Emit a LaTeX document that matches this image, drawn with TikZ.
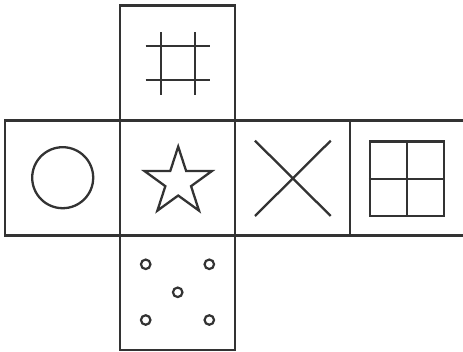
\documentclass[tikz,border=0pt]{standalone}
\usetikzlibrary{shapes.geometric}
\definecolor{ink}{HTML}{333333}
\begin{document}
\begin{tikzpicture}[x=1pt,y=-1pt,
  face/.style={draw=ink,line width=2.3pt,minimum size=115pt,inner sep=0pt,outer sep=0pt},
  sym/.style={draw=ink,line width=2.3pt},
  dot/.style={circle,draw=ink,line width=2.2pt,minimum size=9.5pt,inner sep=0pt}]
\useasboundingbox (0,0) rectangle (463,351);
\clip (0,0) rectangle (463,351);
% faces
\node[face] (top) at (177.75,63) {};
\node[face] (left) at (62.75,178) {};
\node[face] (mid) at (177.75,178) {};
\node[face] (right) at (292.5,178) {};
\node[face] (far) at (407.5,178) {};
\node[face] (bot) at (177.75,292.5) {};
% hash
\draw[sym] (161,32) -- (161,95) (195,32) -- (195,95)
           (145.5,46) -- (210,46) (145.5,80) -- (210,80);
% circle
\node[circle,sym,minimum size=61pt,inner sep=0pt] (ring) at (62.7,177.7) {};
% star
\node[star,star points=5,star point ratio=2.618,minimum size=70.8pt,inner sep=0pt,sym] (st) at (178.2,182) {};
% cross
\draw[sym] (255,140.7) -- (330.7,216) (330.7,140.7) -- (255,216);
% window
\node[sym,minimum width=74pt,minimum height=74.5pt,inner sep=0pt] (win) at (407,178.8) {};
\draw[sym] (win.north) -- (win.south) (win.west) -- (win.east);
% dots
\node[dot] (d1) at (145.7,264.3) {};
\node[dot] (d2) at (209.3,264.3) {};
\node[dot] (d3) at (177.7,292.3) {};
\node[dot] (d4) at (145.7,320) {};
\node[dot] (d5) at (209.3,320) {};
\end{tikzpicture}
\end{document}
